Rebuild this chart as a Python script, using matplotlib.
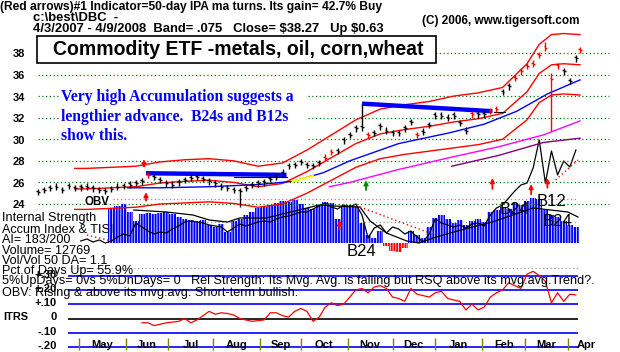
import numpy as np
import pandas as pd
import matplotlib
matplotlib.use('Agg')
import matplotlib.pyplot as plt
from matplotlib.transforms import Affine2D
from matplotlib.patches import Rectangle

plt.rcParams['font.family'] = ['Liberation Sans', 'DejaVu Sans']
plt.rcParams['hatch.linewidth'] = 0.55
plt.rcParams['hatch.color'] = 'white'

# ---------------- data ----------------
dates = pd.bdate_range('2007-04-03', '2008-04-09')
N = len(dates)
STEP = 3  # samples every 3rd trading day

close = [25.1, 25.3, 25.5, 25.6, 25.3, 25.65, 25.5, 25.55, 25.6, 25.45,
         25.3, 25.2, 25.4, 25.6, 25.65, 25.8, 25.95, 26.1, 26.7, 26.5,
         26.2, 25.9, 25.8, 26.0, 26.2, 26.4, 26.5, 26.3, 26.1, 25.9,
         25.6, 25.5, 25.3, 25.2, 25.5, 25.75, 25.9, 26.0, 26.3, 26.5,
         26.9, 27.5, 27.6, 27.9, 27.6, 27.5, 27.8, 28.3, 28.8, 28.9,
         29.9, 30.4, 31.0, 31.1, 30.4, 30.6, 31.2, 30.8, 30.6, 30.6,
         31.0, 31.6, 30.4, 30.7, 31.3, 32.2, 32.2, 32.0, 32.2, 31.5,
         30.8, 32.3, 32.3, 32.3, 32.6, 32.8, 34.4, 34.9, 35.7, 36.3,
         36.8, 37.0, 37.8, 38.5, 35.6, 36.8, 36.3, 35.4, 37.5, 38.27]
bar_spread = 0.3
high_special = {53: 33.3, 83: 39.0, 84: 36.1}
low_special = {33: 23.7, 84: 30.8}
red_bars = [18, 47, 48, 54, 62, 71, 74, 75, 78, 79, 80, 81, 82, 83, 84, 85, 89]

band_idx = [18, 24, 36, 48, 60, 72, 84, 96, 108, 120, 132, 144, 156, 168, 180,
            192, 204, 216, 228, 234, 240, 246, 252, 258, 266]
band_upper = [27.3, 27.3, 27.4, 27.5, 27.9, 28.1, 28.2, 28.0, 27.5, 27.8, 29.0, 30.4,
              31.8, 32.8, 33.2, 33.5, 34.0, 34.3, 34.8, 35.9, 37.0, 38.8, 39.7, 39.8, 39.7]
band_center = [25.4, 25.4, 25.5, 25.6, 25.95, 26.1, 26.2, 26.0, 25.6, 25.9, 27.0, 28.3,
               29.6, 30.5, 30.9, 31.2, 31.6, 31.9, 32.4, 33.4, 34.4, 36.1, 36.9, 37.0, 36.9]
band_lower = [23.5, 23.5, 23.6, 23.7, 24.0, 24.1, 24.2, 24.05, 23.7, 24.0, 25.0, 26.2,
              27.4, 28.2, 28.6, 28.9, 29.2, 29.5, 30.0, 30.9, 31.8, 33.4, 34.1, 34.2, 34.1]

ma50_idx = [44, 60, 84, 108, 125, 140, 153, 177, 202, 219, 235, 250, 266]
ma50 = [25.5, 25.5, 25.6, 25.8, 26.1, 26.9, 28.0, 29.6, 30.6, 31.4, 32.6, 34.2, 35.5]
yellow_idx = [125, 135]
yellow_val = [26.1, 26.6]
mag_idx = [143, 153, 177, 202, 226, 248, 266]
mag = [25.6, 26.0, 27.2, 28.3, 29.3, 30.4, 31.7]
pur_idx = [203, 226, 248, 266]
pur = [27.5, 28.5, 29.7, 30.1]

res_lines = [([53, 122], [26.85, 26.7]), ([159, 223], [33.3, 32.6])]
thin_lines = [([96, 122], [26.5, 26.5]), ([224, 229], [32.5, 32.5])]

arrow_i = [52, 53, 223, 242, 250, 148, 161]
arrow_tail = [28.0, 24.3, 25.4, 24.9, 25.5, 21.6, 25.3]
arrow_tip = [27.3, 25.1, 26.4, 25.85, 26.4, 22.5, 26.2]
arrow_kind = ['red', 'red', 'red', 'red', 'red', 'red', 'green']

ai_start = 12
ai = [34, 37, 39, 31, 22, 29, 30, 29, 30, 31, 29, 26, 24, 23, 22, 23, 18, 16, 19, 11,
      22, 24, 28, 31, 35, 36, 38, 40, 42, 41, 43, 39, 35, 34, 38, 41, 40, 24, 36, 38,
      36, 20, 8, 5, 12, -3, -8, -9, -5, 12, 8, 5, 16, 25, 28, 24, 20, 23, 18, 22,
      24, 21, 31, 33, 36, 34, 40, 38, 42, 45, 44, 33, 28, 26, 22, 18, 16]

tisi_start = 7
tisi = [2, 4, 1, 3, 0, 2, 6, 9, 7, 20, 16, 12, 9, 11, 10, 14, 17, 21, 22, 21,
        20, 18, 17, 16, 11, 15, 19, 17, 19, 21, 22, 21, 24, 26, 27, 29, 31, 31, 34, 37,
        40, 36, 34, 38, 36, 39, 28, 5, 15, 18, 10, 16, 14, 9, 12, 6, 1, 9, 24, 20,
        18, 16, 18, 15, 19, 20, 17, 28, 35, 38, 45, 52, 58, 60, 75, 103, 60, 92, 68, 82,
        76, 93]
tisi_ma_idx = [47, 63, 76, 84, 93, 99, 112, 122, 132, 138, 145, 158, 163, 171, 181,
               187, 194, 204, 217, 223, 243, 260, 265]
tisi_ma = [33, 31, 28, 23, 21, 25, 25, 30, 35, 38, 37, 36, 22, 10, 2, 0, 5, 11, 18,
           21, 35, 31, 26]
reddot_lines = [([24, 30, 36], [8, 5, 2]), ([158, 191], [36, 11]), ([254, 265], [63, 83])]

itrs_start = 17
itrs = [-0.03, -0.03, -0.05, -0.04, -0.03, -0.025, -0.02, 0.0, -0.03, -0.01,
        0.02, 0.05, 0.03, 0.04, 0.035, 0.025, 0.0, -0.01, -0.02, -0.015,
        -0.01, 0.04, 0.04, 0.02, 0.01, 0.05, 0.07, 0.05, -0.02, 0.01,
        0.08, 0.11, 0.09, 0.10, 0.15, 0.20, 0.21, 0.18, 0.22, 0.23,
        0.21, 0.15, 0.14, 0.12, 0.21, 0.17, 0.16, 0.15, 0.18, 0.19,
        0.14, 0.13, 0.12, 0.06, 0.10, 0.06, 0.08, 0.15, 0.18, 0.20,
        0.25, 0.23, 0.21, 0.31, 0.33, 0.30, 0.26, 0.11, 0.18, 0.12,
        0.17, 0.165]

price_ticks = [24, 26, 28, 30, 32, 34, 36, 38]
itrs_levels = [0.30, 0.20, 0.10, -0.10, -0.20]
itrs_labels = [('+.30', 0.30), ('+.20', 0.20), ('+.10', 0.10), ('0', 0.0), ('-.10', -0.10), ('-.20', -0.20)]

labels_B = [('B24', 159, -8), ('B24', 234, 33), ('B12', 252, 41), ('B24', 255, 22)]

# ---------------- layout ----------------
W, H = 620, 352
fig = plt.figure(figsize=(W / 100, H / 100), dpi=100)
fig.patch.set_facecolor('white')
X0, PX = 38.0, 542.0 / 266.0
PPU = 10.79  # pixels per price unit
Y24 = 204.0
IT0, ITS = 318.5, 143.0


def rect(top, bottom):
    return [0, 1 - bottom / H, 1, (bottom - top) / H]


ax_acc = fig.add_axes(rect(30, 260))
ax_pr = fig.add_axes(rect(30, 260))
ax_it = fig.add_axes(rect(265, 352))
for ax in (ax_acc, ax_pr, ax_it):
    ax.set_xlim(-X0 / PX, (W - X0) / PX)
    ax.axis('off')
ax_pr.set_ylim(24 - (260 - Y24) / PPU, 24 + (Y24 - 30) / PPU)
ax_acc.set_ylim(-(260 - 243), 243 - 30)
ax_it.set_ylim(-(352 - IT0) / ITS, (IT0 - 265) / ITS)

dot = (0, (1, 2))

# ---- accumulation panel ----
ax_acc.hlines([44], 37, 265, colors='#c070c0', linestyles=[dot], lw=0.9)
ax_acc.hlines([21], 37, 265, colors='#a0a0a0', linestyles=[dot], lw=0.9)
ai_x = np.arange(len(ai)) * STEP + ai_start * STEP
ai_arr = np.array(ai, float)
ax_acc.bar(ai_x, ai_arr, width=STEP, align='center',
           color=np.where(ai_arr < 0, '#ff0000', '#0000ff'),
           edgecolor='white', linewidth=0, hatch='||||||', zorder=2)
tisi_x = np.arange(len(tisi)) * STEP + tisi_start * STEP
ax_acc.plot(tisi_x, tisi, color='black', lw=0.9, zorder=3)
ax_acc.plot(tisi_ma_idx, tisi_ma, color='black', lw=0.9, zorder=3)
for xs, ys in reddot_lines:
    ax_acc.plot(xs, ys, color='#ff0000', lw=1, linestyle=dot, zorder=3)

# ---- price panel ----
ax_pr.hlines(price_ticks, 0, 280, colors='#008000', linestyles=[dot], lw=0.9, zorder=1)
ax_pr.plot(band_idx, band_upper, color='#ff0000', lw=1, zorder=2)
ax_pr.plot(band_idx, band_center, color='#ff0000', lw=1, zorder=2)
ax_pr.plot(band_idx, band_lower, color='#ff0000', lw=1, zorder=2)
ax_pr.plot(ma50_idx, ma50, color='#0000ff', lw=1, zorder=2)
ax_pr.plot(yellow_idx, yellow_val, color='#ffff00', lw=1.5, zorder=2)
ax_pr.plot(mag_idx, mag, color='#ff00ff', lw=1, zorder=2)
ax_pr.plot(pur_idx, pur, color='#800080', lw=1, zorder=2)
for xs, ys in res_lines:
    ax_pr.plot(xs, ys, color='#0000ff', lw=3.2, solid_capstyle='butt', zorder=3)
for xs, ys in thin_lines:
    ax_pr.plot(xs, ys, color='black', lw=0.8, zorder=3)

cx = np.array(list(range(0, STEP * (len(close) - 1), STEP)) + [N - 1])
c = np.array(close)
hi = c + bar_spread
lo = c - bar_spread
for k, v in high_special.items():
    hi[k] = v
for k, v in low_special.items():
    lo[k] = v
cols = ['#ff0000' if k in red_bars else 'black' for k in range(len(c))]
ax_pr.vlines(cx, lo, hi, colors=cols, lw=1, zorder=4)
ax_pr.hlines(c, cx, cx + 0.9, colors=cols, lw=1, zorder=4)
ax_pr.hlines(c + 0.1, cx - 0.9, cx, colors=cols, lw=1, zorder=4)

for i, t0, t1, kind in zip(arrow_i, arrow_tail, arrow_tip, arrow_kind):
    col = '#ff0000' if kind == 'red' else '#008000'
    ax_pr.annotate('', xy=(i, t1), xytext=(i, t0),
                   arrowprops=dict(arrowstyle='-|>', color=col, lw=1.3,
                                   mutation_scale=6, shrinkA=0, shrinkB=0), zorder=5)

# ---- ITRS panel ----
ax_it.hlines([0.353], 15.7, 265, colors='#a0a0a0', linestyles=[dot], lw=0.9)
ax_it.hlines(itrs_levels, 14.7, 265, colors='#0000ff', lw=1.2)
ax_it.hlines([0.0], 14.7, 265, colors='black', lw=1.2)
it_x = np.arange(len(itrs)) * STEP + itrs_start * STEP
ax_it.plot(it_x, itrs, color='#ff0000', lw=0.9)

mstart = [i for i in range(1, N) if dates[i].month != dates[i - 1].month]
ax_it.vlines(mstart, (IT0 - 350) / ITS, (IT0 - 338) / ITS, colors='#808000', lw=1)

# ---------------- texts ----------------
pix = Affine2D().scale(1 / W, -1 / H).translate(0, 1) + fig.transFigure
rend = fig.canvas.get_renderer()


def put(s, x, y, size, weight='bold', ha='left', va='center', color='black',
        family=None, width=None, **kw):
    t = fig.text(x, y, s, transform=pix, fontsize=size, fontweight=weight,
                 ha=ha, va=va, color=color, usetex=False, parse_math=False, **kw)
    if family:
        t.set_family(family)
    if width:
        w = t.get_window_extent(rend).width
        t.set_fontsize(size * width / w)
    return t


t1 = put('(Red arrows)#1 Indicator=50-day IPA ma turns. Its gain= 42.7% Buy', 0, 7, 8, width=383)
t3 = put('4/3/2007 - 4/9/2008  Band= .075   Close= $38.27   Up $0.63', 33, 29, 8, width=354)
put('c:\\best\\DBC  -', 33, 18, t3.get_fontsize())
put('(C) 2006, www.tigersoft.com', 422, 21, 8, width=158)

fig.patches.append(Rectangle((37, 36), 399, 27, transform=pix, facecolor='white',
                             edgecolor='black', lw=1.2, zorder=1))
put('Commodity ETF -metals, oil, corn,wheat', 53, 49.5, 12, width=369, zorder=4)

fig.patches.append(Rectangle((59, 86), 247, 59, transform=pix, facecolor='white',
                             edgecolor='none', zorder=1))
b1 = put('Very high Accumulation suggests a', 61, 97, 11, color='#0000ff',
         family=['Liberation Serif', 'DejaVu Serif'], width=232, zorder=4)
fs = b1.get_fontsize()
put('lengthier advance.  B24s and B12s', 61, 117, fs, color='#0000ff',
    family=['Liberation Serif', 'DejaVu Serif'], zorder=4)
put('show this.', 61, 136, fs, color='#0000ff',
    family=['Liberation Serif', 'DejaVu Serif'], zorder=4)

for v in price_ticks:
    put(str(v), 19, Y24 - (v - 24) * PPU + 1.5, 8, ha='center')

put('OBV', 97, 202, 9.5, ha='center', width=25)

long_t = put('5%UpDays= 0vs 5%DnDays= 0   Rel Strength: Its Mvg. Avg. is falling but RSQ above its mvg.avg.Trend?.',
             2, 281, 9, weight='normal', width=596, zorder=4)
sfs = long_t.get_fontsize()
for s, y in [('Internal Strength', 218), ('Accum Index & TISI', 230), ('AI= 183/200', 240),
             ('Volume= 12769', 251), ('Vol/Vol 50 DA= 1.1', 261), ('Pct.of Days Up= 55.9%', 271),
             ('OBV: Rising & above its mvg.avg. Short-term bullish.', 293)]:
    put(s, 2, y, sfs, weight='normal', zorder=4)

put('ITRS', 3, 317, 8, width=25)
for s, v in itrs_labels:
    put(s, 57, IT0 - v * ITS - 1, 8, ha='right', zorder=2)

for j, m in enumerate(mstart):
    nxt = mstart[j + 1] if j + 1 < len(mstart) else m + 18
    put(dates[m].strftime('%b'), X0 + PX * (m + nxt) / 2, 345.5, 8, ha='center')

for s, xi, v in labels_B:
    put(s, X0 + PX * xi, 243 - v, 12, weight='normal', ha='center', zorder=5)

fig.savefig('out.png', dpi=100)
